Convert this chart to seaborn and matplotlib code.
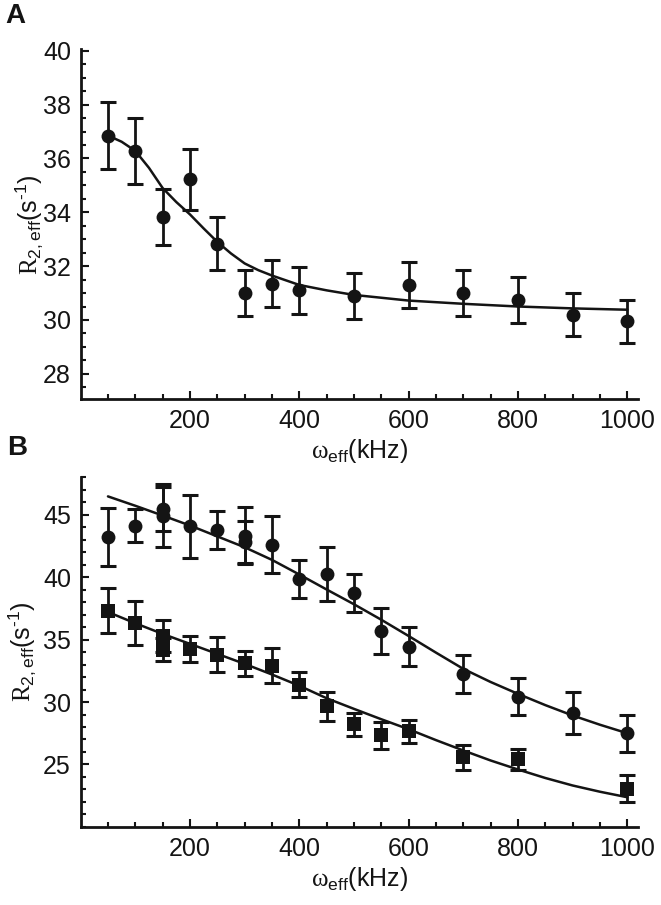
import numpy as np
import matplotlib
matplotlib.use("Agg")
import matplotlib.pyplot as plt
import seaborn as sns
from matplotlib.ticker import FixedLocator, MultipleLocator

sns.set_theme(style="ticks")
plt.rcParams['font.family'] = ['Liberation Sans', 'DejaVu Sans']
plt.rcParams['mathtext.fontset'] = 'custom'
plt.rcParams['mathtext.rm'] = 'Liberation Sans'
plt.rcParams['mathtext.it'] = 'Liberation Sans:italic'
plt.rcParams['mathtext.bf'] = 'Liberation Sans:bold'
plt.rcParams['mathtext.tt'] = 'Liberation Serif'
plt.rcParams['mathtext.default'] = 'regular'

INK = '#141414'

# Panel A: measured points and fitted curve
a_x = [50, 100, 150, 200, 250, 300, 350, 400, 500, 600, 700, 800, 900, 1000]
a_y = [36.85, 36.27, 33.83, 35.23, 32.84, 31.0, 31.35, 31.1, 30.9, 31.3, 31.0, 30.75, 30.2, 29.95]
a_err = [1.25, 1.22, 1.04, 1.13, 0.97, 0.86, 0.87, 0.87, 0.85, 0.87, 0.85, 0.85, 0.8, 0.8]

a_fit_x = [50, 75, 100, 125, 150, 175, 200, 225, 250, 275, 300, 325, 350, 400, 450, 500, 600, 700, 800, 900, 1000]
a_fit_y = [36.85, 36.62, 36.28, 35.65, 34.9, 34.38, 33.92, 33.4, 32.9, 32.47, 32.1, 31.85, 31.65, 31.3, 31.1,
           30.93, 30.72, 30.6, 30.5, 30.43, 30.38]

# Panel B: circles (upper set) and squares (lower set)
b_circ_x = [50, 100, 150, 150, 200, 250, 300, 300, 350, 400, 450, 500, 550, 600, 700, 800, 900, 1000]
b_circ_y = [43.2, 44.1, 45.45, 44.92, 44.05, 43.77, 43.32, 42.8, 42.6, 39.85, 40.25, 38.73, 35.67, 34.44,
            32.25, 30.44, 29.13, 27.5]
b_circ_err = [2.35, 1.33, 1.75, 2.55, 2.55, 1.55, 2.3, 1.7, 2.3, 1.5, 2.13, 1.55, 1.85, 1.55, 1.55, 1.47, 1.7, 1.5]

b_sq_x = [50, 100, 150, 150, 200, 250, 300, 350, 400, 450, 500, 550, 600, 700, 800, 1000]
b_sq_y = [37.32, 36.3, 35.3, 34.2, 34.25, 33.8, 33.1, 32.92, 31.4, 29.67, 28.2, 27.32, 27.64, 25.59, 25.4, 23.05]
b_sq_err = [1.77, 1.77, 1.26, 0.93, 1.03, 1.42, 1.0, 1.37, 0.97, 1.17, 0.93, 1.1, 0.95, 1.0, 0.85, 1.07]

b_fit_x = [50, 100, 150, 200, 250, 300, 350, 400, 450, 500, 550, 600, 650, 700, 750, 800, 850, 900, 950, 1000]
b_fit_circ = [46.45, 45.7, 44.92, 44.12, 43.25, 42.38, 41.37, 40.2, 39.0, 37.82, 36.58, 35.28, 33.95, 32.65,
              31.6, 30.65, 29.75, 28.92, 28.18, 27.5]
b_fit_sq = [37.2, 36.3, 35.45, 34.65, 33.85, 33.05, 32.2, 31.3, 30.3, 29.45, 28.62, 27.82, 26.95, 26.12,
            25.32, 24.6, 23.92, 23.32, 22.82, 22.38]

x_major = [200, 400, 600, 800, 1000]
x_minor = list(range(50, 1001, 50))
a_y_major = [28, 30, 32, 34, 36, 38, 40]
b_y_major = [25, 30, 35, 40, 45]

fig = plt.figure(figsize=(6.61, 9.05), dpi=100)
axA = fig.add_axes([0.122, 0.5587, 0.8436, 0.3867])
axB = fig.add_axes([0.122, 0.0862, 0.8436, 0.3867])


def draw_set(ax, x, y, err, marker):
    ax.errorbar(x, y, yerr=err, fmt='none', ecolor=INK, elinewidth=2.0,
                capsize=5.5, capthick=2.2, zorder=3)
    sns.scatterplot(x=x, y=y, ax=ax, marker=marker, s=100, color=INK,
                    edgecolor=INK, linewidth=0, zorder=4)


def style_axes(ax, ylim, y_major, y_minor):
    ax.set_xlim(0, 1020)
    ax.set_ylim(*ylim)
    ax.xaxis.set_major_locator(FixedLocator(x_major))
    ax.xaxis.set_minor_locator(FixedLocator(x_minor))
    ax.yaxis.set_major_locator(FixedLocator(y_major))
    ax.yaxis.set_minor_locator(MultipleLocator(y_minor))
    for s in ['top', 'right']:
        ax.spines[s].set_visible(False)
    for s in ['left', 'bottom']:
        ax.spines[s].set_linewidth(2.0)
        ax.spines[s].set_color(INK)
    ax.tick_params(which='both', direction='in', color=INK, width=1.5,
                   top=False, right=False, labelcolor=INK)
    ax.tick_params(which='major', length=5.5, pad=7, labelsize=18)
    ax.tick_params(which='minor', length=3.5)
    ax.set_xlabel(r'$\mathtt{\omega}_{eff}$(kHz)', fontsize=18, color=INK, labelpad=3)
    ax.set_ylabel('$\\mathtt{R}_{2,eff}$(s$^{\u20101}$)', fontsize=18, color=INK)


# Panel A
sns.lineplot(x=a_fit_x, y=a_fit_y, ax=axA, color=INK, lw=1.8, zorder=2)
draw_set(axA, a_x, a_y, a_err, 'o')
style_axes(axA, (27.05, 40.05), a_y_major, 0.5)
axA.yaxis.set_label_coords(-0.064, 0.5)

# Panel B
sns.lineplot(x=b_fit_x, y=b_fit_circ, ax=axB, color=INK, lw=1.8, zorder=2)
sns.lineplot(x=b_fit_x, y=b_fit_sq, ax=axB, color=INK, lw=1.8, zorder=2)
draw_set(axB, b_circ_x, b_circ_y, b_circ_err, 'o')
draw_set(axB, b_sq_x, b_sq_y, b_sq_err, 's')
style_axes(axB, (20, 48), b_y_major, 1)
axB.yaxis.set_label_coords(-0.077, 0.5)

fig.text(5 / 661, 1 - 3 / 905, 'A', fontsize=20, weight='bold', ha='left', va='top', color=INK)
fig.text(7 / 661, 1 - 435 / 905, 'B', fontsize=20, weight='bold', ha='left', va='top', color=INK)

fig.savefig('out.png', dpi=100)
